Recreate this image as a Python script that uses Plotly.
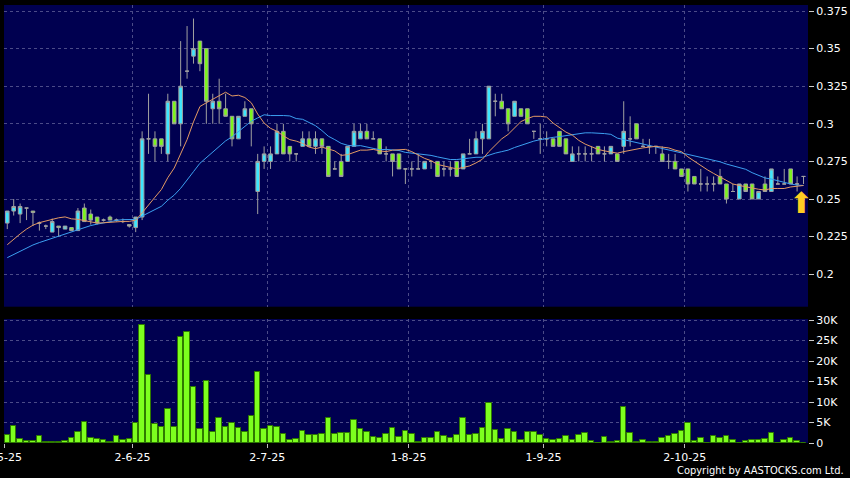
import numpy as np
import plotly.graph_objects as go

# ---------------- data ----------------
# trading-day index 0 = 2 May 2025 ... 124 = 30 Oct 2025
month_start_index = [0, 20, 41, 63, 84, 106]
month_labels = ["2-5-25", "2-6-25", "2-7-25", "1-8-25", "1-9-25", "2-10-25"]

open_ = [.234, .242, .240, .244, .242, .234, .232, .228, .232, .230,
         .231, .229, .244, .240, .238, .236, .238, .236, .235, .233,
         .231, .238, .29, .29, .29, .28, .315, .30, .335, .345,
         .355, .35, .31, .315, .31, .305, .29, .305, .31, .255,
         .275, .275, .28, .295, .285, .28, .285, .29, .285, .29,
         .285, .27, .275, .275, .285, .29, .295, .29, .29, .28,
         .28, .28, .27, .27, .27, .27, .275, .275, .27, .27,
         .275, .27, .28, .28, .29, .29, .315, .315, .31, .305,
         .31, .31, .295, .29, .29, .29, .295, .29, .275, .28,
         .28, .28, .285, .28, .28, .28, .285, .29, .30, .285,
         .285, .285, .28, .275, .275, .27, .27, .265, .26, .26,
         .26, .265, .26, .255, .25, .26, .26, .25, .26, .255,
         .26, .26, .27, .26, .265]

high = [.242, .250, .247, .244, .242, .235, .233, .237, .232, .232,
        .231, .244, .247, .243, .238, .237, .239, .237, .237, .233,
        .238, .295, .32, .295, .29, .32, .315, .355, .365, .37,
        .355, .35, .32, .33, .32, .305, .305, .315, .31, .28,
        .285, .285, .30, .30, .285, .28, .295, .295, .295, .29,
        .285, .275, .28, .285, .30, .30, .30, .295, .29, .285,
        .28, .28, .27, .275, .28, .275, .275, .275, .275, .275,
        .275, .28, .29, .295, .30, .325, .32, .32, .31, .315,
        .31, .31, .295, .30, .295, .29, .295, .29, .285, .285,
        .285, .285, .285, .285, .285, .28, .315, .305, .30, .29,
        .29, .285, .285, .28, .28, .27, .27, .265, .27, .265,
        .265, .27, .26, .26, .26, .26, .26, .255, .265, .27,
        .265, .27, .27, .265, .265]

low = [.230, .239, .234, .236, .232, .229, .230, .228, .225, .230,
       .229, .229, .235, .233, .233, .235, .236, .235, .234, .231,
       .228, .236, .28, .275, .28, .275, .30, .285, .33, .34,
       .335, .30, .30, .30, .305, .285, .29, .305, .285, .24,
       .27, .27, .28, .28, .275, .275, .285, .285, .28, .28,
       .265, .27, .265, .275, .285, .29, .29, .29, .28, .275,
       .265, .27, .26, .265, .27, .27, .27, .265, .265, .265,
       .265, .27, .28, .28, .28, .29, .305, .31, .295, .305,
       .305, .30, .29, .28, .285, .285, .285, .28, .275, .275,
       .275, .275, .28, .275, .28, .275, .28, .285, .29, .285,
       .28, .28, .275, .27, .27, .265, .255, .26, .255, .255,
       .255, .26, .247, .255, .25, .255, .25, .25, .255, .255,
       .26, .26, .26, .255, .26]

close = [.242, .245, .245, .244, .241, .234, .232, .235, .231, .232,
         .229, .242, .235, .236, .234, .236, .236, .236, .235, .232,
         .238, .29, .29, .285, .285, .315, .30, .325, .335, .35,
         .34, .315, .315, .31, .305, .29, .305, .31, .30, .275,
         .28, .28, .295, .28, .28, .28, .29, .285, .29, .285,
         .265, .27, .265, .285, .295, .295, .29, .29, .28, .28,
         .275, .27, .27, .27, .27, .275, .275, .265, .27, .27,
         .265, .28, .28, .29, .295, .325, .315, .31, .30, .315,
         .305, .30, .295, .29, .29, .285, .285, .28, .28, .28,
         .28, .28, .28, .28, .285, .275, .295, .29, .29, .285,
         .285, .285, .275, .275, .27, .265, .26, .26, .26, .26,
         .26, .26, .25, .255, .26, .255, .25, .255, .255, .27,
         .26, .26, .26, .26, .265]

# closes of the 19 sessions before the window, implied by where the MA lines start
pre_window_close = [.200, .201, .202, .203, .202, .203, .202, .203, .204, .204,
                    .208, .210, .212, .215, .217, .220, .222, .224, .226]

volume_k = [2.0, 4.2, 1.0, 0.6, 0.6, 1.8, 0.15, 0.15, 0.3, 0.6,
            1.3, 2.6, 5.2, 1.3, 1.0, 0.7, 0.3, 1.6, 0.8, 1.0,
            4.9, 28.8, 16.6, 4.7, 3.8, 8.3, 4.0, 25.9, 27.1, 13.7,
            3.5, 15.2, 2.7, 6.1, 3.8, 4.8, 3.7, 2.8, 6.6, 17.3,
            3.3, 4.2, 3.9, 2.3, 0.7, 1.0, 3.0, 2.0, 2.0, 2.2,
            6.2, 2.1, 2.4, 2.4, 5.6, 3.5, 2.8, 1.4, 1.3, 2.3,
            3.7, 1.4, 3.0, 2.2, 0.3, 1.3, 1.2, 2.6, 1.8, 1.2,
            2.0, 6.0, 2.0, 2.1, 3.6, 9.8, 3.2, 1.0, 3.4, 2.6,
            0.8, 2.7, 2.6, 1.9, 1.0, 0.8, 1.0, 1.6, 0.7, 2.0,
            2.5, 0.6, 0.05, 1.5, 0.15, 0.6, 8.8, 2.4, 0.3, 0.8,
            0.3, 0.3, 1.3, 1.6, 2.1, 3.0, 5.0, 0.6, 1.3, 0.05,
            1.8, 1.3, 1.8, 0.8, 0.1, 0.6, 0.8, 0.7, 0.9, 2.4,
            0.05, 0.8, 1.1, 0.6, 0.1]

price_ticks = [0.2, 0.225, 0.25, 0.275, 0.3, 0.325, 0.35, 0.375]
price_tick_text = ["0.2", "0.225", "0.25", "0.275", "0.3", "0.325", "0.35", "0.375"]
vol_ticks = [0, 5000, 10000, 15000, 20000, 25000, 30000]
vol_tick_text = ["0", "5K", "10K", "15K", "20K", "25K", "30K"]

# ---------------- derived ----------------
n = len(close)
x = list(range(n))
full = np.array(pre_window_close + close)
p = len(pre_window_close)
ma10 = [full[p + i - 9:p + i + 1].mean() for i in range(n)]
ma20 = [full[p + i - 19:p + i + 1].mean() for i in range(n)]
volume = [v * 1000 for v in volume_k]
month_tick_pos = [i - 0.5 for i in month_start_index]

# ---------------- figure ----------------
W, H = 850, 478
ML, MR, MT, MB = 4, 42, 5, 35
plot_h = H - MT - MB
plot_w = W - ML - MR

fig = go.Figure()
fig.add_trace(go.Bar(
    x=x, y=volume, xaxis="x", yaxis="y2", width=0.86,
    marker=dict(color="#7dff1e", line=dict(color="#2f7a00", width=1)),
    hoverinfo="skip"))
fig.add_trace(go.Candlestick(
    x=x, open=open_, high=high, low=low, close=close,
    xaxis="x2", yaxis="y", whiskerwidth=0,
    increasing=dict(fillcolor="#3de6ff", line=dict(color="#a0a0a0", width=1)),
    decreasing=dict(fillcolor="#7cf51c", line=dict(color="#a0a0a0", width=1))))
fig.add_trace(go.Scatter(x=x, y=ma20, xaxis="x2", yaxis="y", mode="lines",
                         line=dict(color="#3c9ff0", width=1), hoverinfo="skip"))
fig.add_trace(go.Scatter(x=x, y=ma10, xaxis="x2", yaxis="y", mode="lines",
                         line=dict(color="#e39a64", width=1), hoverinfo="skip"))

grid = dict(showgrid=True, gridcolor="#4b4b88", gridwidth=1, griddash="3px,3px",
            zeroline=False, showline=False, automargin=False)
tickfont = dict(family="DejaVu Sans", size=11, color="#ffffff")
xrange = [-0.51, 124.7]

fig.update_layout(
    width=W, height=H,
    margin=dict(l=ML, r=MR, t=MT, b=MB, pad=0, autoexpand=False),
    paper_bgcolor="#000000", plot_bgcolor="#000050",
    showlegend=False, boxgap=0.2, bargap=0,
    xaxis=dict(domain=[0, 1], anchor="y2", range=xrange,
               tickmode="array", tickvals=month_tick_pos, ticktext=month_labels,
               ticks="outside", ticklen=4, tickcolor="#bbbbbb",
               tickfont=tickfont, ticklabeloverflow="allow",
               rangeslider=dict(visible=False), **grid),
    xaxis2=dict(domain=[0, 1], anchor="y", range=xrange,
                tickmode="array", tickvals=month_tick_pos,
                showticklabels=False, ticks="",
                rangeslider=dict(visible=False), **grid),
    yaxis=dict(domain=[(H - MB - 306.7) / plot_h, 1], anchor="x2", side="right",
               range=[0.1784, 0.379], tickmode="array",
               tickvals=price_ticks, ticktext=price_tick_text,
               ticks="outside", ticklen=5, tickcolor="#cccccc",
               tickfont=tickfont, **grid),
    yaxis2=dict(domain=[0, (H - MB - 319) / plot_h], anchor="x", side="right",
                range=[0, 30250], tickmode="array",
                tickvals=vol_ticks, ticktext=vol_tick_text,
                ticks="outside", ticklen=5, tickcolor="#cccccc",
                tickfont=tickfont, **grid),
)

fig.add_annotation(x=x[-1], y=low[-1], xref="x2", yref="y", text="\u2b06",
                   showarrow=False, yanchor="top", xshift=-3, yshift=0,
                   font=dict(family="DejaVu Sans", size=29, color="#ffcc22"))
fig.add_annotation(x=(846 - ML) / plot_w, y=-(470 - (H - MB)) / plot_h,
                   xref="paper", yref="paper", xanchor="right", yanchor="middle",
                   text="Copyright by AASTOCKS.com Ltd.", showarrow=False,
                   font=dict(family="DejaVu Sans Condensed", size=11, color="#ffffff"))

fig.write_html("out.html", config={"displayModeBar": False},
               post_script="document.body.style.margin='0';"
                           "document.body.style.background='#000';")
